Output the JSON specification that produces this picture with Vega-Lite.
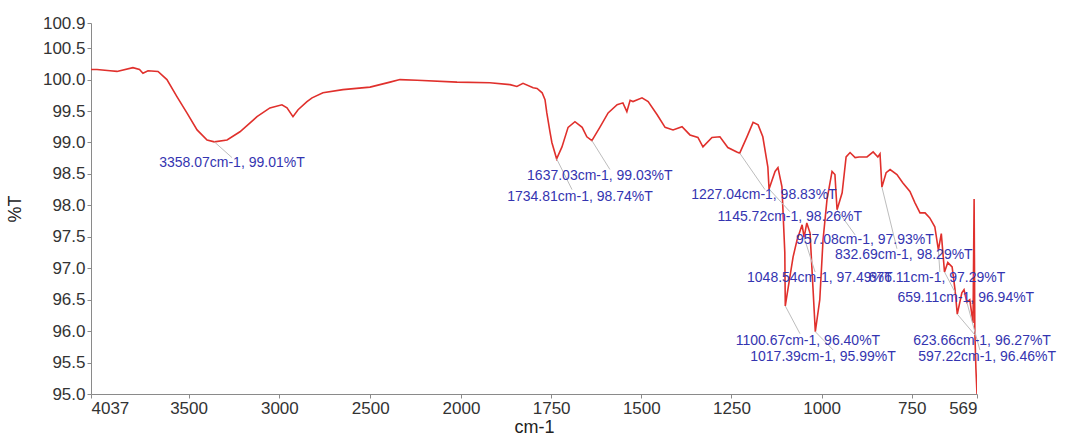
{
  "$schema": "https://vega.github.io/schema/vega-lite/v6.json",
  "width": 886,
  "height": 371,
  "autosize": {"type": "none"},
  "padding": {"left": 91, "top": 23, "right": 90, "bottom": 45},
  "background": "white",
  "config": {"view": {"stroke": null}, "font": "Liberation Sans", "axis": {"labelOverlap": false}},
  "datasets": {
    "spectrum": [
      {"wn":4037,"t":100.16},{"wn":4004,"t":100.16},{"wn":3932,"t":100.14},{"wn":3894,"t":100.13},{"wn":3806,"t":100.19},{"wn":3770,"t":100.16},{"wn":3751,"t":100.10},{"wn":3723,"t":100.14},{"wn":3668,"t":100.13},{"wn":3619,"t":100.00},{"wn":3564,"t":99.73},{"wn":3509,"t":99.47},{"wn":3453,"t":99.20},{"wn":3398,"t":99.04},{"wn":3358.07,"t":99.01},{"wn":3288,"t":99.04},{"wn":3217,"t":99.17},{"wn":3123,"t":99.41},{"wn":3052,"t":99.55},{"wn":2986,"t":99.60},{"wn":2958,"t":99.55},{"wn":2925,"t":99.41},{"wn":2897,"t":99.52},{"wn":2848,"t":99.65},{"wn":2820,"t":99.71},{"wn":2760,"t":99.79},{"wn":2650,"t":99.84},{"wn":2501,"t":99.88},{"wn":2391,"t":99.96},{"wn":2336,"t":100.0},{"wn":2242,"t":99.99},{"wn":2022,"t":99.96},{"wn":1920,"t":99.95},{"wn":1864,"t":99.92},{"wn":1845,"t":99.89},{"wn":1828,"t":99.94},{"wn":1800,"t":99.87},{"wn":1789,"t":99.86},{"wn":1775,"t":99.79},{"wn":1767,"t":99.68},{"wn":1762,"t":99.47},{"wn":1753,"t":99.16},{"wn":1748,"t":99.00},{"wn":1734.81,"t":98.74},{"wn":1720,"t":98.93},{"wn":1703,"t":99.24},{"wn":1684,"t":99.33},{"wn":1664,"t":99.24},{"wn":1651,"t":99.09},{"wn":1637.03,"t":99.03},{"wn":1615,"t":99.24},{"wn":1592,"t":99.47},{"wn":1567,"t":99.60},{"wn":1551,"t":99.63},{"wn":1540,"t":99.49},{"wn":1531,"t":99.67},{"wn":1523,"t":99.65},{"wn":1498,"t":99.71},{"wn":1481,"t":99.65},{"wn":1456,"t":99.44},{"wn":1434,"t":99.24},{"wn":1412,"t":99.20},{"wn":1387,"t":99.25},{"wn":1365,"t":99.12},{"wn":1343,"t":99.08},{"wn":1329,"t":98.93},{"wn":1304,"t":99.08},{"wn":1282,"t":99.09},{"wn":1260,"t":98.92},{"wn":1235,"t":98.85},{"wn":1227.04,"t":98.83},{"wn":1207,"t":99.09},{"wn":1190,"t":99.32},{"wn":1176,"t":99.28},{"wn":1163,"t":99.09},{"wn":1149,"t":98.61},{"wn":1145.72,"t":98.26},{"wn":1129,"t":98.54},{"wn":1121,"t":98.60},{"wn":1110,"t":98.30},{"wn":1102,"t":97.25},{"wn":1100.67,"t":96.40},{"wn":1088,"t":96.86},{"wn":1079,"t":97.18},{"wn":1068,"t":97.45},{"wn":1054,"t":97.69},{"wn":1048.54,"t":97.49},{"wn":1041,"t":97.72},{"wn":1032,"t":97.56},{"wn":1024,"t":96.70},{"wn":1017.39,"t":95.99},{"wn":1005,"t":96.50},{"wn":996,"t":97.45},{"wn":985,"t":98.09},{"wn":971,"t":98.54},{"wn":963,"t":98.49},{"wn":957.08,"t":97.93},{"wn":943,"t":98.20},{"wn":932,"t":98.77},{"wn":921,"t":98.84},{"wn":907,"t":98.76},{"wn":896,"t":98.77},{"wn":874,"t":98.77},{"wn":857,"t":98.85},{"wn":844,"t":98.77},{"wn":838,"t":98.82},{"wn":832.69,"t":98.29},{"wn":821,"t":98.52},{"wn":810,"t":98.57},{"wn":791,"t":98.49},{"wn":775,"t":98.36},{"wn":755,"t":98.22},{"wn":741,"t":98.04},{"wn":727,"t":97.88},{"wn":713,"t":97.88},{"wn":700,"t":97.80},{"wn":686,"t":97.66},{"wn":676.11,"t":97.29},{"wn":668,"t":97.55},{"wn":659.11,"t":96.94},{"wn":650,"t":97.09},{"wn":638,"t":97.02},{"wn":630,"t":96.66},{"wn":623.66,"t":96.27},{"wn":611,"t":96.61},{"wn":605,"t":96.66},{"wn":597.22,"t":96.46},{"wn":589,"t":96.50},{"wn":580,"t":96.13},{"wn":577,"t":98.10},{"wn":575,"t":96.0},{"wn":572,"t":95.4},{"wn":569,"t":95.0}
    ],
    "peaks": [
      {"wn":3358.07,"t":99.01,"lx":3261,"ly":98.76,"tx":3261,"ty":98.68,"label":"3358.07cm-1, 99.01%T"},
      {"wn":1637.03,"t":99.03,"lx":1587,"ly":98.57,"tx":1615,"ty":98.47,"label":"1637.03cm-1, 99.03%T"},
      {"wn":1734.81,"t":98.74,"lx":1692,"ly":98.25,"tx":1670,"ty":98.14,"label":"1734.81cm-1, 98.74%T"},
      {"wn":1227.04,"t":98.83,"lx":1157,"ly":98.25,"tx":1160,"ty":98.17,"label":"1227.04cm-1, 98.83%T"},
      {"wn":1145.72,"t":98.26,"lx":1088,"ly":97.90,"tx":1088,"ty":97.82,"label":"1145.72cm-1, 98.26%T"},
      {"wn":957.08,"t":97.93,"lx":907,"ly":97.53,"tx":880,"ty":97.45,"label":"957.08cm-1, 97.93%T"},
      {"wn":832.69,"t":98.29,"lx":791,"ly":97.31,"tx":772,"ty":97.21,"label":"832.69cm-1, 98.29%T"},
      {"wn":1048.54,"t":97.49,"lx":1018,"ly":96.94,"tx":1005,"ty":96.85,"label":"1048.54cm-1, 97.49%T"},
      {"wn":676.11,"t":97.29,"lx":672,"ly":96.94,"tx":680,"ty":96.85,"label":"676.11cm-1, 97.29%T"},
      {"wn":659.11,"t":96.94,"lx":630,"ly":96.62,"tx":600,"ty":96.53,"label":"659.11cm-1, 96.94%T"},
      {"wn":1100.67,"t":96.40,"lx":1060,"ly":95.96,"tx":1038,"ty":95.84,"label":"1100.67cm-1, 96.40%T"},
      {"wn":1017.39,"t":95.99,"lx":968,"ly":95.70,"tx":996,"ty":95.59,"label":"1017.39cm-1, 95.99%T"},
      {"wn":623.66,"t":96.27,"lx":575,"ly":95.94,"tx":555,"ty":95.84,"label":"623.66cm-1, 96.27%T"},
      {"wn":597.22,"t":96.46,"lx":561,"ly":95.70,"tx":541,"ty":95.59,"label":"597.22cm-1, 96.46%T"}
    ]
  },
  "layer": [
    {
      "data": {"name": "spectrum"},
      "mark": {"type": "line", "color": "#e0302c", "strokeWidth": 1.6, "clip": true},
      "encoding": {
        "x": {
          "field": "wn", "type": "quantitative",
          "scale": {"domain": [4037, 2000, 569], "range": [0, 370, 886], "nice": false, "zero": false},
          "axis": {
            "values": [4037, 3500, 3000, 2500, 2000, 1750, 1500, 1250, 1000, 750, 569],
            "tickCount": 30,
            "format": "d", "title": "cm-1", "grid": false,
            "domainColor": "#8a8a8a", "tickColor": "#8a8a8a", "tickSize": 4,
            "labelFontSize": 17, "labelColor": "#333333", "labelPadding": 2,
            "titleFontSize": 18, "titleFontWeight": "normal", "titleColor": "#222222", "titlePadding": 2
          }
        },
        "y": {
          "field": "t", "type": "quantitative",
          "scale": {"domain": [95, 100.9], "nice": false, "zero": false},
          "axis": {
            "values": [95, 95.5, 96, 96.5, 97, 97.5, 98, 98.5, 99, 99.5, 100, 100.5, 100.9],
            "tickCount": 30,
            "format": ".1f", "title": "%T", "grid": false,
            "domainColor": "#8a8a8a", "tickColor": "#8a8a8a", "tickSize": 4,
            "labelFontSize": 17, "labelColor": "#333333", "labelPadding": 2,
            "titleFontSize": 18, "titleFontWeight": "normal", "titleColor": "#222222", "titlePadding": 18
          }
        }
      }
    },
    {
      "data": {"name": "peaks"},
      "mark": {"type": "rule", "color": "#bdbdbd", "strokeWidth": 1},
      "encoding": {
        "x": {"field": "wn", "type": "quantitative"},
        "y": {"field": "t", "type": "quantitative"},
        "x2": {"field": "lx"},
        "y2": {"field": "ly"}
      }
    },
    {
      "data": {"name": "peaks"},
      "mark": {"type": "text", "color": "#3434b0", "fontSize": 14, "align": "center", "baseline": "middle", "font": "Liberation Sans"},
      "encoding": {
        "x": {"field": "tx", "type": "quantitative"},
        "y": {"field": "ty", "type": "quantitative"},
        "text": {"field": "label"}
      }
    }
  ]
}
